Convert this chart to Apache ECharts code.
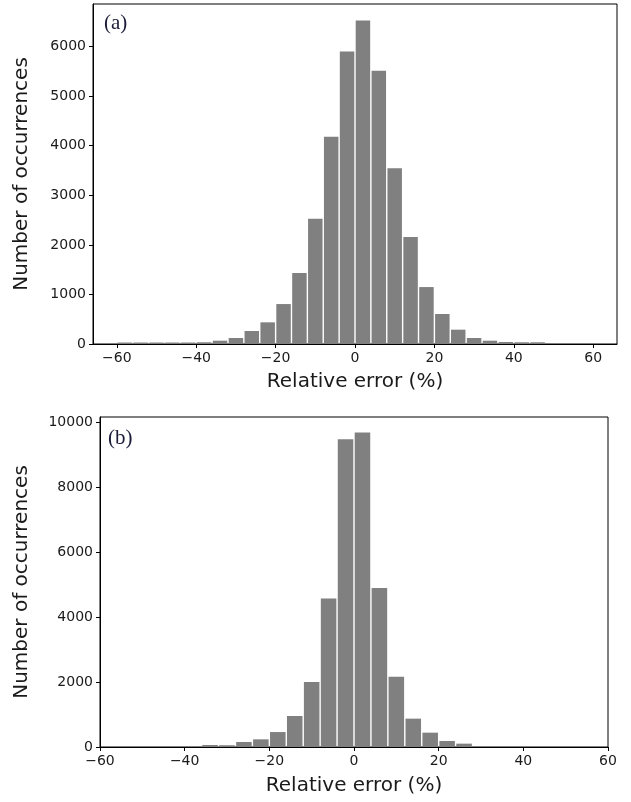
<!DOCTYPE html>
<html>
<head>
<meta charset="utf-8">
<script src="https://cdn.jsdelivr.net/npm/echarts@6/dist/echarts.min.js"></script>
<style>
  html, body { margin: 0; padding: 0; background: #fff; }
  #chart { width: 631px; height: 802px; }
</style>
</head>
<body>
<div id="chart"></div>
<script>
// bin edges of both histograms (width 4 %)
const binEdges = [-60, -56, -52, -48, -44, -40, -36, -32, -28, -24, -20, -16, -12, -8, -4,
  0, 4, 8, 12, 16, 20, 24, 28, 32, 36, 40, 44, 48, 52, 56, 60]

// (a) counts per bin
const countsA = [30, 30, 30, 30, 30, 35, 67, 121, 262, 437, 806, 1431, 2527, 4180, 5900,
  6525, 5511, 3548, 2157, 1149, 605, 289, 121, 67, 40, 35, 35, 0, 0, 0]

// (b) counts per bin
const countsB = [0, 0, 0, 0, 0, 0, 62, 55, 154, 236, 460, 954, 2000, 4564, 9467,
  9672, 4892, 2164, 872, 441, 185, 103, 0, 0, 0, 0, 0, 0, 0, 0]

const xTicks = [-60, -40, -20, 0, 20, 40, 60]
const yTicksA = [0, 1000, 2000, 3000, 4000, 5000, 6000]
const yTicksB = [0, 2000, 4000, 6000, 8000, 10000]

const font = 'DejaVu Sans'
const textColor = '#1a1a1a'

const toBins = counts => counts.map((c, i) => [binEdges[i], binEdges[i + 1], c])

const minusFmt = v => (v < 0 ? '\u2212' + Math.abs(v) : String(v))

// histogram bar: drawn from the axis scales, small white gap between bins
const renderBar = (params, api) => {
  const v = api.value(2)
  if (!v) return null
  const top = api.coord([api.value(0), v])
  const bottom = api.coord([api.value(1), 0])
  return {
    type: 'rect',
    shape: {
      x: top[0] + 0.7,
      y: top[1],
      width: bottom[0] - top[0] - 1.4,
      height: bottom[1] - top[1]
    },
    style: { fill: '#808080' }
  }
}

const xAxisOf = (gridIndex, min, max, nameGap) => ({
  type: 'value',
  gridIndex,
  min,
  max,
  name: 'Relative error (%)',
  nameLocation: 'middle',
  nameGap,
  nameTextStyle: { fontFamily: font, fontSize: 20, color: textColor },
  axisLine: { show: true, onZero: false, lineStyle: { color: '#000', width: 1 } },
  axisTick: { show: true, length: 4, customValues: xTicks, lineStyle: { color: '#000' } },
  axisLabel: {
    customValues: xTicks,
    formatter: minusFmt,
    margin: 7,
    fontFamily: font,
    fontSize: 14,
    color: textColor
  },
  splitLine: { show: false }
})

const yAxisOf = (gridIndex, max, ticks, nameGap) => ({
  type: 'value',
  gridIndex,
  min: 0,
  max,
  name: 'Number of occurrences',
  nameLocation: 'middle',
  nameGap,
  nameTextStyle: { fontFamily: font, fontSize: 20, color: textColor },
  axisLine: { show: true, onZero: false, lineStyle: { color: '#000', width: 1 } },
  axisTick: { show: true, length: 4, customValues: ticks, lineStyle: { color: '#000' } },
  axisLabel: {
    customValues: ticks,
    formatter: v => String(v),
    margin: 7,
    fontFamily: font,
    fontSize: 14,
    color: textColor
  },
  splitLine: { show: false }
})

const chart = echarts.init(document.getElementById('chart'), null, { renderer: 'canvas' })

const option = {
  backgroundColor: '#fff',
  animation: false,
  title: [
    { text: '(a)', left: 99, top: 8, textStyle: { fontFamily: 'Liberation Serif', fontSize: 21, fontWeight: 'normal', color: '#1c1c3a' } },
    { text: '(b)', left: 103, top: 423, textStyle: { fontFamily: 'Liberation Serif', fontSize: 21, fontWeight: 'normal', color: '#1c1c3a' } }
  ],
  grid: [
    { left: 93, right: 14, top: 4, height: 340, show: true, borderColor: '#000', borderWidth: 1, outerBoundsMode: 'none' },
    { left: 100, right: 23, top: 417, height: 330, show: true, borderColor: '#000', borderWidth: 1, outerBoundsMode: 'none' }
  ],
  xAxis: [
    xAxisOf(0, -66, 66, 28),
    xAxisOf(1, -60, 60, 29)
  ],
  yAxis: [
    yAxisOf(0, 6860, yTicksA, 61),
    yAxisOf(1, 10150, yTicksB, 68)
  ],
  series: [
    {
      type: 'custom',
      xAxisIndex: 0,
      yAxisIndex: 0,
      renderItem: renderBar,
      encode: { x: [0, 1], y: 2 },
      data: toBins(countsA),
      z: 1
    },
    {
      type: 'custom',
      xAxisIndex: 1,
      yAxisIndex: 1,
      renderItem: renderBar,
      encode: { x: [0, 1], y: 2 },
      data: toBins(countsB),
      z: 1
    }
  ]
}

chart.setOption(option)
window.addEventListener('resize', () => chart.resize())
</script>
</body>
</html>
